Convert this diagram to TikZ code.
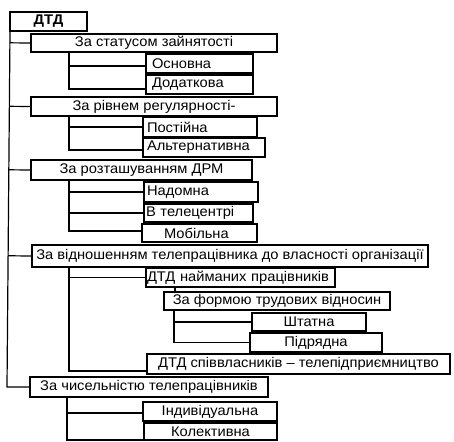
\documentclass[tikz,border=0pt]{standalone}
\usepackage{fontspec}
\setmainfont{Liberation Sans}[FakeStretch=1.05]
\usetikzlibrary{calc}

\tikzset{
  box/.style={draw, line width=1.5pt, inner sep=0pt, outer sep=0pt, fill=white,
              font=\fontsize{14}{16}\selectfont, anchor=north west},
  link/.style={line width=1.2pt},
}

% centred label: name, left, top, right, bottom, text
\newcommand\cbox[6]{%
  \pgfmathsetmacro\bw{#4-#2}\pgfmathsetmacro\bh{#5-#3}%
  \node[box, minimum width=\bw pt, minimum height=\bh pt] (#1) at (#2,#3) {#6};}
% left-aligned label: name, left, top, right, bottom, padding, text
\newcommand\lbox[7]{%
  \pgfmathsetmacro\bw{#4-#2}\pgfmathsetmacro\bh{#5-#3}\pgfmathsetmacro\tw{#4-#2-2*#6}%
  \node[box, minimum width=\bw pt, minimum height=\bh pt, inner xsep=#6pt,
        text width=\tw pt, align=left] (#1) at (#2,#3) {#7};}

\begin{document}
\begin{tikzpicture}[x=1pt,y=-1pt]
\useasboundingbox (0,0) rectangle (454,441);

% boxes
\cbox{dtd}{10}{12}{87}{31}{\bfseries ДТД}
\cbox{s1}{31}{34}{277}{52}{За статусом зайнятості}
\lbox{s1a}{146}{54}{253}{73}{6}{Основна}
\lbox{s1b}{146}{75}{253}{94}{6}{Додаткова}
\cbox{s2}{31}{97}{277}{116}{За рівнем регулярності-}
\lbox{s2a}{143}{117}{257}{137}{4}{Постійна}
\lbox{s2b}{143}{138}{265}{157}{4}{Альтернативна}
\cbox{s3}{31}{160}{252}{180}{За розташуванням ДРМ}
\lbox{s3a}{144}{182}{258}{202}{3}{Надомна}
\lbox{s3b}{144}{204}{253}{222}{2}{В телецентрі}
\lbox{s3c}{142}{224}{257}{242}{22}{Мобільна}
\cbox{s4}{32}{245}{428}{267}{За відношенням телепрацівника до власності організації}
\lbox{s4a}{146}{268}{335}{287}{1}{ДТД найманих працівників}
\cbox{s4b}{164}{292}{390}{310}{За формою трудових відносин}
\cbox{s4d}{252}{313}{366}{331}{Штатна}
\cbox{s4e}{250}{333}{382}{352}{Підрядна}
\cbox{s4f}{147}{354}{450}{374}{ДТД співвласників – телепідприємництво}
\cbox{s5}{30}{377}{268}{397}{За чисельністю телепрацівників}
\cbox{s5a}{143}{402}{277}{421}{Індивідуальна}
\cbox{s5b}{144}{423}{277}{440}{Колективна}

% trunk and first-level branches
\coordinate (tb) at (7,387);
\draw[link] (dtd.south west) -- (tb) -- (s5.west);
\foreach \n in {s1,s2,s3,s4}
  \draw[link] ($(dtd.south west)!(\n.west)!(tb)$) -- (\n.west);

% second-level branches
\coordinate (xa) at (69,0);
\coordinate (xb) at (67,0);
\coordinate (xc) at (174,0);
\coordinate (xd) at (175,0);

\draw[link] (s1.south -| xa) |- ($(s1a.west)+(0,2.5)$);
\draw[link] (s1.south -| xa) |- ($(s1b.west)+(0,4.5)$);

\draw[link] (s2.south -| xa) |- (s2a.west);
\draw[link] (s2.south -| xa) |- ($(s2b.west)+(0,2.5)$);

\draw[link] (s3.south -| xa) |- (s3a.west);
\draw[link] (s3.south -| xa) |- (s3b.west);
\draw[link] (s3.south -| xa) |- ($(s3c.west)+(0,-2)$);

\draw[link] (s4.south -| xa) |- (s4a.west);
\draw[link] (s4.south -| xa) |- ($(s4f.west)+(0,7)$);
\draw[link] (s4a.south -| xd) -- (s4b.north -| xd);
\draw[link] (s4b.south -| xc) |- (s4d.west);
\draw[link] (s4b.south -| xc) |- (s4e.west);

\draw[link] (s5.south -| xb) |- ($(s5a.west)+(0,1.5)$);
\draw[link] (s5.south -| xb) |- ($(s5b.west)+(0,8.5)$);
\end{tikzpicture}
\end{document}
